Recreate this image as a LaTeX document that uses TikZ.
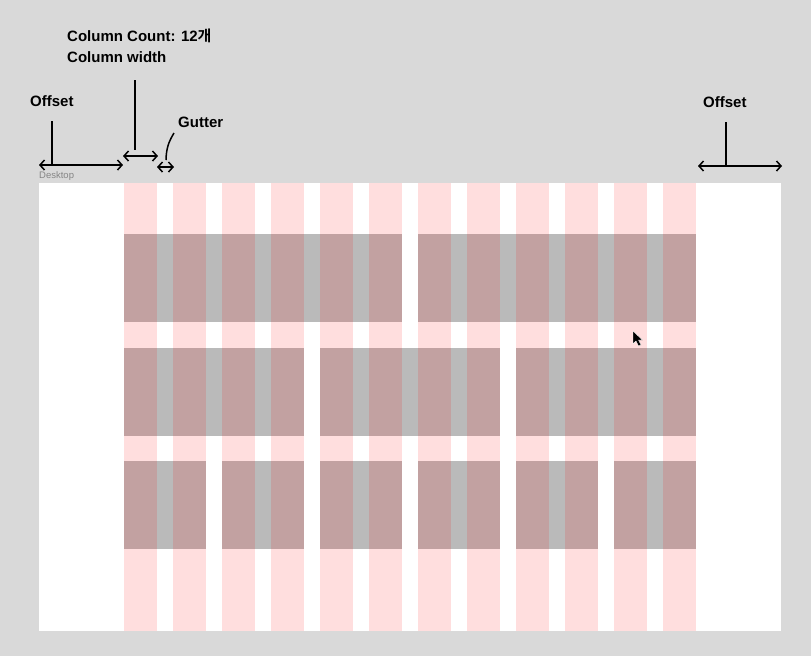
\documentclass[tikz,border=0pt]{standalone}
\usepackage{fontspec}
\setmainfont{Liberation Sans}
\newfontfamily\krfont{Noto Sans CJK KR}[BoldFont={Noto Sans CJK KR Bold}]
\usetikzlibrary{arrows.meta}
\definecolor{bggray}{HTML}{D9D9D9}
\definecolor{boxgray}{HTML}{BABABA}
\definecolor{tinygray}{HTML}{858585}
\tikzset{
  tag/.style={font=\fontsize{15}{18}\selectfont\bfseries, anchor=west, inner sep=0pt},
  span/.style={line width=1.5pt, {Straight Barb[length=4.5pt,width=10pt]}-{Straight Barb[length=4.5pt,width=10pt]}},
  stem/.style={line width=1.5pt}
}
\begin{document}
\begin{tikzpicture}[x=1pt, y=-1pt]
\fill [bggray] (0,0) rectangle (811,656);
\useasboundingbox (0,0) rectangle (811,656);
% desktop frame
\fill [white] (39,183) rectangle (781,631);
\node [anchor=west, inner sep=0pt, text=tinygray, font=\fontsize{9.5}{11}\selectfont] (desk) at (39,176.5) {Desktop};
% content boxes
\foreach \y/\a/\b in {234/1/6, 234/7/12,
                      348/1/4, 348/5/8, 348/9/12,
                      461/1/2, 461/3/4, 461/5/6, 461/7/8, 461/9/10, 461/11/12}
  \fill [boxgray] ({124+49*(\a-1)},\y) rectangle ({157+49*(\b-1)},\y+88);
% columns
\foreach \i in {0,...,11}
  \fill [red, fill opacity=0.13] ({124+49*\i},183) rectangle ({157+49*\i},631);
% pointer
\draw [fill=black, draw=white, line width=0.4pt, line join=round]
  (633,331) -- (633,344) -- (636,341) -- (638.5,346) -- (641,345) -- (638.5,340) -- (642.5,340) -- cycle;

\coordinate (ol1) at (39,165);
\coordinate (ol2) at (123,165);
\coordinate (oltop) at (52,121);
\coordinate (olbot) at (52,165);
\coordinate (cw1) at (123,156);
\coordinate (cw2) at (158,156);
\coordinate (cwtop) at (135,80);
\coordinate (cwbot) at (135,150);
\coordinate (g1) at (157,167);
\coordinate (g2) at (174,167);
\coordinate (gtop) at (174,133);
\coordinate (gbot) at (166,160);
\coordinate (or1) at (698,166);
\coordinate (or2) at (782,166);
\coordinate (ortop) at (726,122);
\coordinate (orbot) at (726,166);

\node [tag] (count) at (67,36) {Column Count: 12{\krfont\bfseries 개}};
\node [tag] (cwidth) at (67,57) {Column width};
\node [tag] (offl) at (30,101) {Offset};
\node [tag] (gut) at (178,122) {Gutter};
\node [tag] (offr) at (703,102) {Offset};

\draw [span] (ol1) -- (ol2);
\draw [stem] (oltop) -- (olbot);
\draw [span] (cw1) -- (cw2);
\draw [stem] (cwtop) -- (cwbot);
\draw [span] (g1) -- (g2);
\draw [stem] (gtop) to[bend right=15] (gbot);
\draw [span] (or1) -- (or2);
\draw [stem] (ortop) -- (orbot);
\end{tikzpicture}
\end{document}
